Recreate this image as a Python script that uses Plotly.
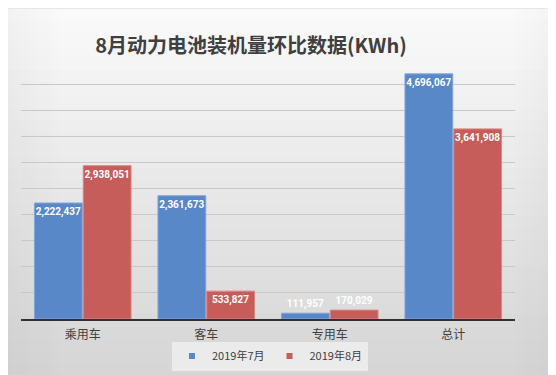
import plotly.graph_objects as go

categories = ["乘用车", "客车", "专用车", "总计"]
series_names = ["2019年7月", "2019年8月"]
july_values = [2222437, 2361673, 111957, 4696067]
aug_values = [2938051, 533827, 170029, 3641908]
label_positions = ["inside", "inside", "outside", "inside"]

W, H = 556, 375
L, R, T, B = 13, 49, 50, 58
pw, ph = W - L - R, H - T - B

fig = go.Figure()
colors = ["#5888c7", "#c75d5a"]
lines = ["#80a6d8", "#dc8683"]
lab_font = dict(family="Roboto, Noto Sans", size=10, color="white", weight="bold")
for name, vals, c, lc in zip(series_names, [july_values, aug_values], colors, lines):
    fig.add_trace(go.Bar(
        name=name, x=categories, y=vals,
        marker=dict(color=c, line=dict(color=lc, width=1)),
        text=[f"{v:,}" for v in vals],
        textposition=label_positions,
        insidetextanchor="end",
        textangle=0,
        constraintext="none",
        cliponaxis=False,
        showlegend=False,
        textfont=lab_font, insidetextfont=lab_font, outsidetextfont=lab_font,
    ))
    fig.add_trace(go.Scatter(
        name=name, x=[None], y=[None], mode="markers",
        marker=dict(symbol="square", size=6, color=c),
    ))

# background gradient (decorative)
shapes = []
n = 30
x0 = -L / pw
x1 = (W - L) / pw
for i in range(n):
    ya = 1 + T / ph - i * (H / ph) / n
    yb = ya - (H / ph) / n - 0.002
    f = i / (n - 1)
    g = int(250 - 36 * f)
    shapes.append(dict(type="rect", xref="paper", yref="paper", x0=x0, x1=x1, y0=yb, y1=ya,
                       fillcolor=f"rgb({g},{g},{g})", line=dict(width=0), layer="below"))
m = 10
for side in (0, 1):
    for i in range(m):
        w = (50 / pw) / m
        a = 0.06 * (1 - i / m)
        if side == 0:
            xa, xb = x0 + i * w, x0 + (i + 1) * w
        else:
            xa, xb = x1 - (i + 1) * w, x1 - i * w
        shapes.append(dict(type="rect", xref="paper", yref="paper", x0=xa, x1=xb,
                           y0=-B / ph, y1=1 + T / ph,
                           fillcolor=f"rgba(120,120,120,{a:.3f})", line=dict(width=0), layer="below"))

fig.update_layout(
    width=W, height=H,
    margin=dict(l=L, r=R, t=T, b=B),
    paper_bgcolor="#e6e6e6",
    plot_bgcolor="rgba(0,0,0,0)",
    barmode="group",
    bargap=0.21,
    bargroupgap=0.02,
    shapes=shapes,
    title=dict(text="<b>8月动力电池装机量环比数据(KWh)</b>", x=243 / W, xanchor="center",
               y=1 - 38 / H, yanchor="middle",
               font=dict(family="Noto Sans CJK SC", size=20, color="#404040")),
    legend=dict(orientation="h", x=0.504, xanchor="center", y=-0.142, yanchor="middle",
                bgcolor="rgba(240,240,240,0.8)",
                font=dict(family="Noto Sans CJK SC", size=11, color="#404040"),
                itemwidth=30, tracegroupgap=0),
    xaxis=dict(showline=True, linecolor="#303030", linewidth=1.5, ticks="",
               tickfont=dict(family="Noto Sans CJK SC", size=12, color="#404040"),
               ticklabelstandoff=4, showgrid=False),
    yaxis=dict(range=[0, 5000000], dtick=500000, showticklabels=False, showgrid=True,
               gridcolor="#c8c8c8", gridwidth=1, zeroline=False, showline=False),
    showlegend=True,
)

fig.write_html("out.html")
